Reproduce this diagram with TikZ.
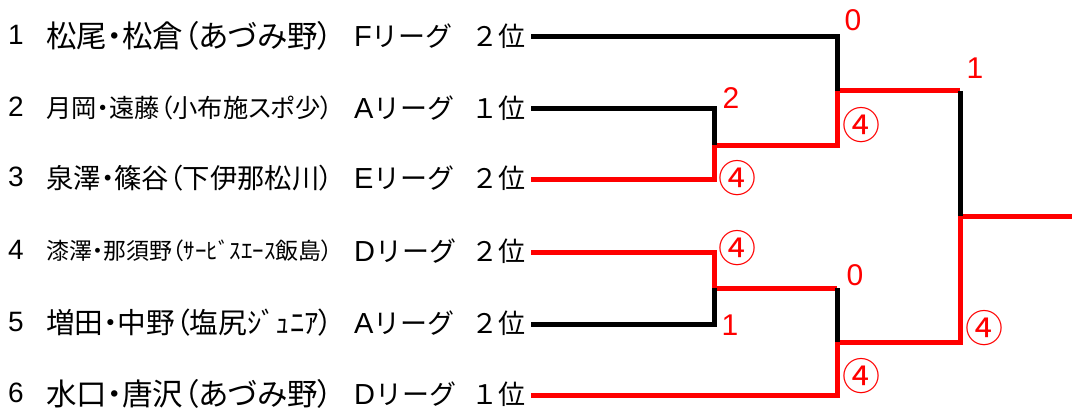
\documentclass[tikz,border=0pt]{standalone}
\usepackage{fontspec}
\setmainfont{Liberation Sans}
\newfontfamily\jp[RawFeature=+palt]{Noto Sans CJK JP}
\newfontfamily\jpw{Noto Sans CJK JP}
\newcommand\nmbox[1]{\resizebox{287pt}{!}{\jp\fontsize{28}{28}\selectfont #1}}
\begin{document}
\begin{tikzpicture}[x=1pt,y=-1pt,
  bl/.style={line width=5pt,black},
  rd/.style={line width=5pt,red},
  sc/.style={text=red,font=\fontsize{30}{30}\selectfont,inner sep=0},
  cs/.style={text=red,font=\jpw\fontsize{38}{38}\selectfont,inner sep=0},
  num/.style={font=\fontsize{28}{28}\selectfont,inner sep=0},
  nm/.style={anchor=west,inner sep=0},
  lg/.style={anchor=west,inner sep=0,font=\fontsize{29}{29}\selectfont},
  rk/.style={anchor=east,inner sep=0,font=\jpw\fontsize{27}{27}\selectfont}]
\useasboundingbox (0,0) rectangle (1072,412);
% rows text
\node[num] (n1) at (16,35) {1};
\node[num] (n2) at (16,107) {2};
\node[num] (n3) at (16,177) {3};
\node[num] (n4) at (16,250) {4};
\node[num] (n5) at (16,322) {5};
\node[num] (n6) at (16,393) {6};
\node[nm] (t1) at (46,36) {\nmbox{松尾・松倉（あづみ野）}};
\node[nm] (t2) at (46,108) {\nmbox{月岡・遠藤（小布施スポ少）}};
\node[nm] (t3) at (46,178) {\nmbox{泉澤・篠谷（下伊那松川）}};
\node[nm] (t4) at (46,251) {\nmbox{漆澤・那須野（ｻｰﾋﾞｽｴｰｽ飯島）}};
\node[nm] (t5) at (46,323) {\nmbox{増田・中野（塩尻ｼﾞｭﾆｱ）}};
\node[nm] (t6) at (46,394) {\nmbox{水口・唐沢（あづみ野）}};
\node[lg] (l1) at (354,36) {F{\jpw\fontsize{27}{27}\selectfont リーグ}};
\node[lg] (l2) at (354,108) {A{\jpw\fontsize{27}{27}\selectfont リーグ}};
\node[lg] (l3) at (354,178) {E{\jpw\fontsize{27}{27}\selectfont リーグ}};
\node[lg] (l4) at (354,251) {D{\jpw\fontsize{27}{27}\selectfont リーグ}};
\node[lg] (l5) at (354,323) {A{\jpw\fontsize{27}{27}\selectfont リーグ}};
\node[lg] (l6) at (354,394) {D{\jpw\fontsize{27}{27}\selectfont リーグ}};
\node[rk] (r1) at (526,36) {２位};
\node[rk] (r2) at (526,108) {１位};
\node[rk] (r3) at (526,178) {２位};
\node[rk] (r4) at (526,251) {２位};
\node[rk] (r5) at (526,323) {２位};
\node[rk] (r6) at (526,394) {１位};
% bracket points
\coordinate (s1) at (531,37);
\coordinate (s2) at (531,109);
\coordinate (s3) at (531,179);
\coordinate (s4) at (531,252);
\coordinate (s5) at (531,324);
\coordinate (s6) at (531,395);
\coordinate (mA) at (714,145);
\coordinate (mB) at (837,91);
\coordinate (mC) at (714,288);
\coordinate (mD) at (837,342);
\coordinate (mF) at (960,216);
\coordinate (fin) at (1072,216);
% red (winning) paths
\draw[rd] (s3) -| (mA) -- (mA -| mB) -- (mB) -- (mB -| mF);
\draw[rd] (s4) -| (mC) -- (mC -| mB);
\draw[rd] (s6) -| (mD) -- (mD -| mF) -- (mF) -- (fin);
% black (losing) paths
\draw[bl] (s1) -| (mB);
\draw[bl] (s2) -| (mA);
\draw[bl] (s5) -| (mC);
\draw[bl] (mC -| mB) -- (mD);
\draw[bl] (mB -| mF) -- (mF);
% scores
\node[sc] (a2) at (731,98) {2};
\node[cs] (a3) at (737,178) {④};
\node[sc] (b1) at (853,20) {0};
\node[cs] (b2) at (861,125) {④};
\node[cs] (c4) at (737,248) {④};
\node[sc] (c5) at (730,325) {1};
\node[sc] (d1) at (855,275) {0};
\node[cs] (d6) at (861,376) {④};
\node[sc] (f1) at (975,68) {1};
\node[cs] (f2) at (984,328) {④};
\end{tikzpicture}
\end{document}
